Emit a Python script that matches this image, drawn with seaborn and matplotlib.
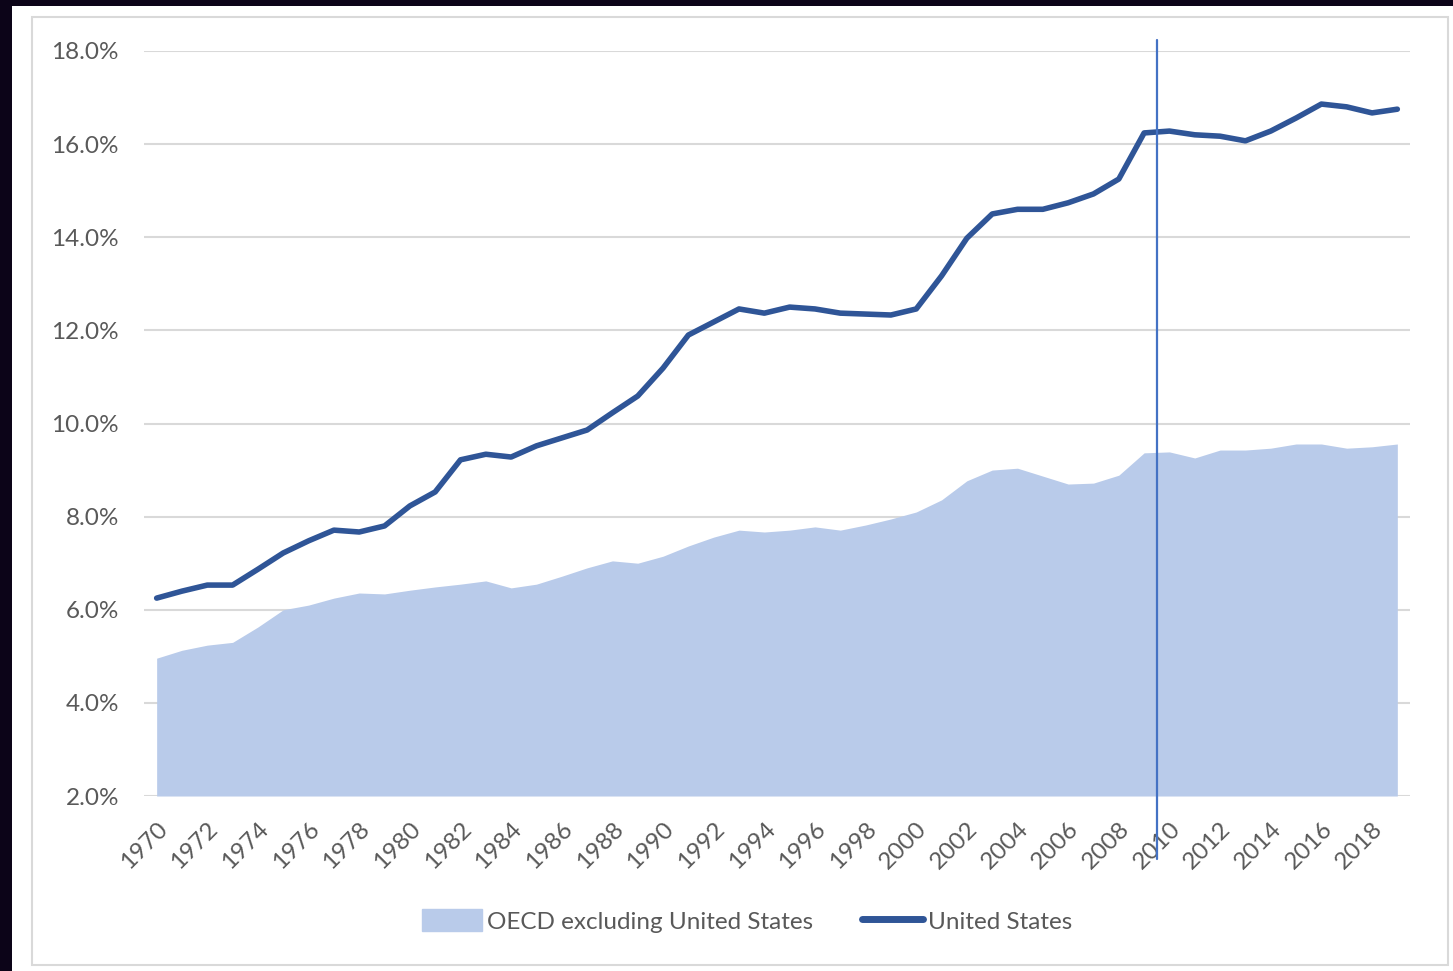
import pandas as pd
import matplotlib.pyplot as plt
import matplotlib.patches as mpatches
import matplotlib.lines as mlines
from matplotlib.ticker import PercentFormatter
import seaborn as sns

# Dữ liệu
years = list(range(1970, 2020))
us_share = [6.25, 6.40, 6.53, 6.53, 6.87, 7.22, 7.48, 7.71, 7.67, 7.80,
            8.23, 8.53, 9.22, 9.34, 9.28, 9.52, 9.69, 9.86, 10.23, 10.59,
            11.19, 11.90, 12.18, 12.46, 12.37, 12.50, 12.46, 12.37, 12.35, 12.33,
            12.46, 13.17, 13.98, 14.50, 14.60, 14.60, 14.74, 14.93, 15.25, 16.24,
            16.28, 16.20, 16.17, 16.07, 16.28, 16.56, 16.86, 16.80, 16.67, 16.75]
oecd_share = [4.96, 5.13, 5.24, 5.30, 5.63, 6.00, 6.10, 6.25, 6.36, 6.34,
              6.42, 6.49, 6.55, 6.62, 6.47, 6.55, 6.72, 6.90, 7.05, 7.00,
              7.15, 7.37, 7.56, 7.71, 7.67, 7.71, 7.78, 7.71, 7.82, 7.95,
              8.10, 8.36, 8.77, 9.00, 9.04, 8.87, 8.70, 8.72, 8.89, 9.37,
              9.39, 9.26, 9.43, 9.43, 9.47, 9.56, 9.56, 9.47, 9.50, 9.56]
year_ticks = list(range(1970, 2019, 2))
y_ticks = [2, 4, 6, 8, 10, 12, 14, 16, 18]
marker_year = 2009.5

df = pd.DataFrame({'Year': years, 'United States': us_share,
                   'OECD excluding United States': oecd_share})

US_COLOR = '#2F5597'
AREA_COLOR = '#B9CBEA'
TEXT_COLOR = '#595959'
GRID_COLOR = '#D9D9D9'

sns.set_theme(style='white')
plt.rcParams['font.family'] = ['Lato', 'DejaVu Sans']

fig = plt.figure(figsize=(14.53, 9.71), dpi=100, facecolor='white')
# khung tối bên trái / phía trên và viền xám của vùng biểu đồ
fig.patches.append(mpatches.Rectangle((0, 0), 0.0083, 1, transform=fig.transFigure,
                                      facecolor='#0C0418', edgecolor='none', zorder=0))
fig.patches.append(mpatches.Rectangle((0, 0.9938), 1, 0.0062, transform=fig.transFigure,
                                      facecolor='#0C0418', edgecolor='none', zorder=0))
fig.patches.append(mpatches.Rectangle((0.022, 0.0062), 0.9745, 0.9763, transform=fig.transFigure,
                                      facecolor='none', edgecolor=GRID_COLOR, lw=1.5, zorder=0))

ax = fig.add_axes([0.0991, 0.1802, 0.8713, 0.7673])
ax.set_facecolor('none')

ax.fill_between(df['Year'], 2, df['OECD excluding United States'],
                color=AREA_COLOR, linewidth=0, zorder=2)
sns.lineplot(data=df, x='Year', y='United States', ax=ax, color=US_COLOR,
             linewidth=4, zorder=3, legend=False)
ax.axvline(marker_year, ymin=-0.085, ymax=1.015, color='#4472C4', lw=1.6,
           clip_on=False, zorder=4)

ax.set_xlim(1969.5, 2019.5)
ax.set_ylim(2, 18)
ax.set_yticks(y_ticks)
ax.yaxis.set_major_formatter(PercentFormatter(decimals=1))
ax.set_xticks(year_ticks)
ax.set_xticklabels([str(y) for y in year_ticks], rotation=45, ha='right',
                   rotation_mode='anchor')
ax.grid(axis='y', color=GRID_COLOR, lw=1.5, zorder=1)
ax.set_axisbelow(True)
for s in ax.spines.values():
    s.set_visible(False)
ax.tick_params(axis='y', length=0, pad=18, labelsize=17.5, labelcolor=TEXT_COLOR)
ax.tick_params(axis='x', length=0, pad=16, labelsize=17.5, labelcolor=TEXT_COLOR)
ax.set_xlabel('')
ax.set_ylabel('')

handles = [mpatches.Patch(color=AREA_COLOR, label='OECD excluding United States'),
           mlines.Line2D([], [], color=US_COLOR, lw=5, label='United States')]
fig.legend(handles=handles, loc='center', bbox_to_anchor=(0.514, 0.0515), ncol=2,
           frameon=False, fontsize=17.5, labelcolor=TEXT_COLOR, handlelength=2.5,
           handleheight=1.0, handletextpad=0.2, columnspacing=2.0)

plt.savefig('out.png', dpi=100, facecolor='white')
